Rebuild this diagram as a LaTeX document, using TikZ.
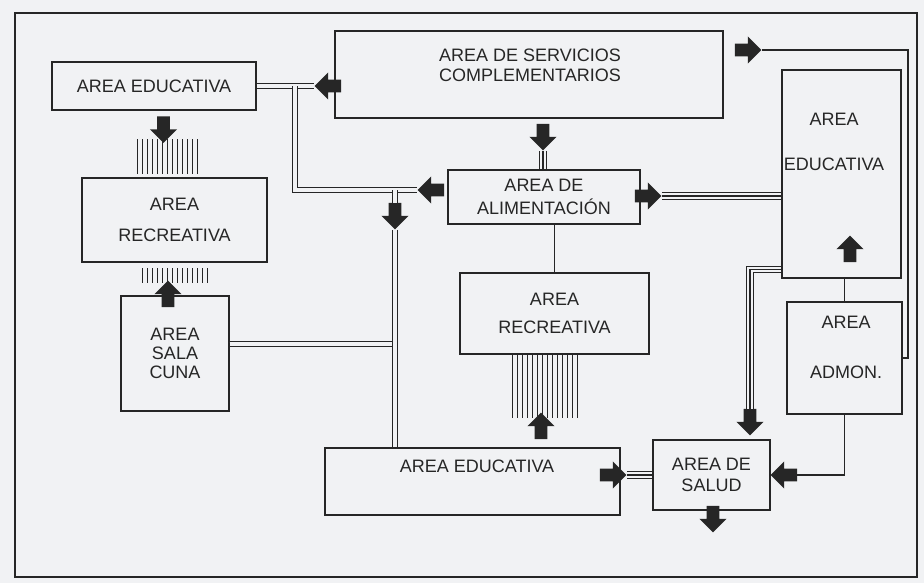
\documentclass[tikz,border=0pt]{standalone}
\usepackage{fontspec}
\setmainfont{Liberation Sans}
\usetikzlibrary{shapes.arrows,patterns,calc}
\definecolor{planink}{RGB}{38,38,38}
\definecolor{planpaper}{RGB}{241,242,244}
\newcommand\planfont{\fontsize{13.5}{16}\selectfont}
\pgfdeclarepatternformonly{barcode}{\pgfqpoint{0pt}{-1pt}}{\pgfqpoint{3.75pt}{11pt}}{\pgfqpoint{3.75pt}{10pt}}{%
  \pgfsetlinewidth{0.9pt}%
  \pgfpathmoveto{\pgfqpoint{1.875pt}{-1pt}}%
  \pgfpathlineto{\pgfqpoint{1.875pt}{11pt}}%
  \pgfusepath{stroke}}

\begin{document}
\begin{tikzpicture}[x=0.75pt,y=-0.75pt,
    zone/.style={draw=planink,line width=1.1pt,fill=planpaper,inner sep=0pt,
      align=center,font=\planfont,text=planink},
    tag/.style={align=center,font=\planfont,text=planink,inner sep=0pt},
    fat/.style={single arrow,fill=planink,draw=none,inner sep=4.5pt,
      minimum height=20pt,minimum width=20pt,single arrow head extend=5.5pt,
      shape border rotate=#1},
    stripes/.style={pattern=barcode,pattern color=planink,inner sep=0pt},
    wire/.style={draw=planink,line width=1pt},
    dbl/.style={draw=planink,line width=0.9pt,double=planpaper,double distance=2.6pt},
    trip/.style={draw=planink,line width=0.8pt,
      preaction={draw=planink,line width=0.9pt,double=planpaper,double distance=4pt}}]
  \fill[planpaper] (0,0) rectangle (924,583);
  \useasboundingbox (0,0) rectangle (924,583);
  \draw[planink,line width=1.2pt] (15,13) rectangle (917,577);

  % areas
  \node[zone,minimum width=153pt,minimum height=36pt] (eduA) at (154,86) {AREA EDUCATIVA};
  \node[zone,minimum width=291pt,minimum height=65pt] (serv) at (529,74.5) {};
  \node[tag,align=left] (servT) at (530,65) {AREA DE SERVICIOS\\[-1pt]COMPLEMENTARIOS};
  \node[zone,minimum width=139pt,minimum height=63pt] (recA) at (174.5,220) {AREA\\[7pt]RECREATIVA};
  \node[zone,minimum width=81pt,minimum height=86pt] (cuna) at (175,353.5) {AREA\\[-2pt]SALA\\[-2pt]CUNA};
  \node[zone,minimum width=144pt,minimum height=40.5pt] (alim) at (544,197) {AREA DE\\[1pt]ALIMENTACIÓN};
  \node[zone,minimum width=142pt,minimum height=61pt] (recB) at (554.5,313.5) {AREA\\[5pt]RECREATIVA};
  \node[zone,minimum width=89pt,minimum height=156pt] (eduB) at (841.5,174) {};
  \node[tag] (eduBT) at (834,142) {AREA\\[18pt]EDUCATIVA};
  \node[zone,minimum width=86pt,minimum height=84pt] (admon) at (844.5,358) {};
  \node[tag] (admonT) at (846,347) {AREA\\[21.5pt]ADMON.};
  \node[zone,minimum width=221pt,minimum height=50pt] (eduC) at (472.5,481.5) {};
  \node[tag] (eduCT) at (477,466) {AREA EDUCATIVA};
  \node[zone,minimum width=88pt,minimum height=52.5pt] (salud) at (711.5,475) {AREA DE\\SALUD};

  % striped passages
  \node[stripes,minimum width=50pt,minimum height=25pt] (hatA) at (166.5,156.5) {};
  \node[stripes,minimum width=51pt,minimum height=11pt] (hatB) at (174,275.5) {};
  \node[stripes,minimum width=51pt,minimum height=47pt] (hatC) at (544,386.5) {};

  % block arrows
  \node[fat=270] (a1) at (163.5,126.5) {};
  \node[fat=90] (a2) at (168,297) {};
  \node[fat=180] (a3) at (331,86) {};
  \node[fat=180] (a4) at (434,190) {};
  \node[fat=270] (a5) at (395,213) {};
  \node[fat=270] (a6) at (543,134) {};
  \node[fat=0] (a7) at (645,196) {};
  \node[fat=0] (a8) at (745,50) {};
  \node[fat=90] (a9) at (850,252) {};
  \node[fat=270] (a10) at (750,419) {};
  \node[fat=180] (a11) at (787,475) {};
  \node[fat=0] (a12) at (610,475) {};
  \node[fat=270] (a13) at (713,516) {};
  \node[fat=90] (a14) at (541,429) {};

  % links
  \coordinate (jA) at (295,86);
  \coordinate (jB) at (395,190);
  \coordinate (cR) at (908,50);
  \draw[dbl] (eduA.east) -- (a3.tip);
  \draw[dbl] (jA) |- (a4.tip);
  \draw[dbl] (jB) -- (a5.tail);
  \draw[dbl] ([yshift=7pt]cuna.east) -- ([yshift=7pt]cuna.east -| a5.tip);
  \draw[dbl] (a5.tip) -- (a5.tip |- eduC.north);
  \draw[trip] (a6.tip) -- (a6.tip |- alim.north);
  \draw[trip] (a7.tip) -- (a7.tip -| eduB.west);
  \draw[wire] (recB.north) -- (recB.north |- alim.south);
  \draw[wire] (a8.tip) -- (cR) |- (admon.east);
  \draw[trip] ([yshift=7pt]eduB.south west) -| (a10.tail);
  \draw[wire] (admon.north) -- (admon.north |- eduB.south);
  \draw[wire] (admon.south) |- (a11.tail);
  \draw[trip] (a12.tip) -- (salud.west);
\end{tikzpicture}
\end{document}
